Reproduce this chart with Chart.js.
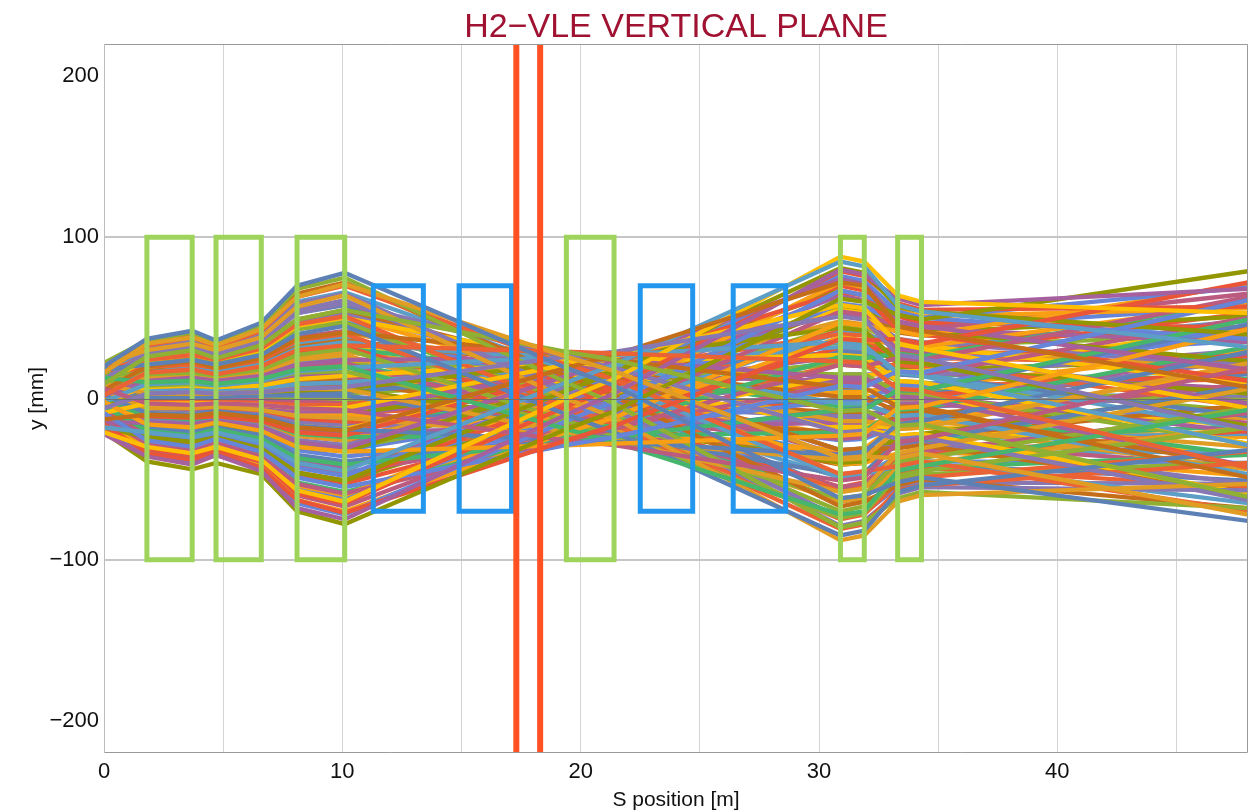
<!DOCTYPE html>
<html>
<head>
<meta charset="utf-8">
<title>H2-VLE vertical plane</title>
<script src="https://cdn.jsdelivr.net/npm/chart.js@4.4.1/dist/chart.umd.min.js"></script>
<style>
  html, body { margin: 0; padding: 0; background: #ffffff; }
  #wrap { width: 1249px; height: 812px; position: relative; }
</style>
</head>
<body>
<div id="wrap"><canvas id="plot" width="1249" height="812"></canvas></div>
<script>
// S positions (m) where the tracking code writes out each particle
const S_NODES = [0, 1.8, 3.7, 4.7, 6.6, 8.1, 10.1, 19.4, 21.4, 30.9, 31.9, 33.3, 34.3, 48];

// vertical offset y (mm) of the tracked particles at S_NODES,
// grouped by starting amplitude (largest first)
const TRACKS_1 = [
  [20, 37, 42, 36, 47, 70, 78, 19, 8, -62, -60, -52, -49, -76],
  [16, 34, 38, 33, 43, 63, 71, 26, 17, -37, -36, -37, -34, -72],
  [9, 26, 30, 25, 33, 49, 55, 29, 24, -8, -7, -17, -16, -61],
  [2, 16, 18, 15, 20, 30, 33, 29, 28, 23, 22, 6, 5, -43],
  [-6, 3, 4, 3, 4, 6, 7, 26, 29, 51, 49, 27, 25, -19],
  [-13, -10, -11, -9, -12, -18, -20, 19, 27, 72, 70, 45, 42, 7],
  [-18, -21, -24, -21, -27, -40, -45, 10, 21, 85, 82, 58, 54, 32],
  [-21, -30, -34, -30, -38, -57, -64, 0, 12, 88, 85, 64, 60, 53],
  [-22, -36, -41, -35, -45, -68, -75, -10, 3, 80, 77, 62, 58, 68],
  [-21, -39, -44, -40, -47, -70, -78, -19, -8, 62, 60, 52, 49, 79],
  [-16, -34, -38, -33, -43, -63, -71, -26, -17, 37, 36, 37, 34, 72],
  [-9, -26, -30, -25, -33, -49, -55, -29, -24, 8, 7, 17, 16, 61],
  [-2, -16, -18, -15, -20, -30, -33, -29, -28, -23, -22, -6, -5, 43],
  [6, -3, -4, -3, -4, -6, -7, -26, -29, -51, -49, -27, -25, 19],
  [13, 10, 11, 9, 12, 18, 20, -19, -27, -72, -70, -45, -42, -7],
  [18, 21, 24, 21, 27, 40, 45, -10, -21, -85, -82, -58, -54, -32],
  [21, 30, 34, 30, 38, 57, 64, 0, -12, -88, -85, -64, -60, -53],
  [22, 36, 41, 35, 45, 68, 75, 10, -3, -80, -77, -62, -58, -68]
];
const TRACKS_1B = [
  [17, 33, 38, 32, 42, 63, 70, 21, 12, -47, -45, -42, -39, -70],
  [12, 28, 32, 27, 36, 53, 59, 26, 19, -21, -20, -25, -24, -63],
  [5, 20, 23, 19, 25, 37, 41, 27, 24, 7, 7, -5, -5, -49],
  [-2, 9, 10, 8, 11, 17, 19, 26, 27, 35, 33, 16, 14, -29],
  [-9, -3, -3, -3, -4, -6, -6, 21, 26, 58, 56, 34, 31, -6],
  [-15, -15, -16, -14, -18, -27, -31, 14, 23, 74, 71, 48, 45, 18],
  [-18, -24, -27, -24, -31, -46, -51, 5, 16, 81, 78, 57, 54, 40],
  [-20, -31, -35, -31, -39, -59, -65, -5, 7, 79, 76, 59, 55, 57],
  [-20, -35, -40, -35, -43, -65, -72, -14, -2, 67, 64, 54, 50, 69],
  [-17, -34, -39, -34, -42, -63, -70, -21, -12, 47, 45, 42, 39, 71],
  [-12, -28, -32, -27, -36, -53, -59, -26, -19, 21, 20, 25, 24, 63],
  [-5, -20, -23, -19, -25, -37, -41, -27, -24, -7, -7, 5, 5, 49],
  [2, -9, -10, -8, -11, -17, -19, -26, -27, -35, -33, -16, -14, 29],
  [9, 3, 3, 3, 4, 6, 6, -21, -26, -58, -56, -34, -31, 6],
  [15, 15, 16, 14, 18, 27, 31, -14, -23, -74, -71, -48, -45, -18],
  [18, 24, 27, 24, 31, 46, 51, -5, -16, -81, -78, -57, -54, -40],
  [20, 31, 35, 31, 39, 59, 65, 5, -7, -79, -76, -59, -55, -57],
  [20, 34, 39, 33, 43, 65, 72, 14, 2, -67, -64, -54, -50, -68]
];
const TRACKS_2 = [
  [16, 32, 36, 31, 40, 60, 66, 18, 9, -49, -47, -42, -40, -65],
  [10, 24, 27, 24, 30, 45, 50, 24, 18, -20, -19, -23, -22, -59],
  [2, 11, 13, 11, 14, 21, 24, 25, 24, 13, 13, 0, 0, -42],
  [-5, 3, 3, 3, 4, 5, 6, 22, 25, 44, 42, 23, 22, -17],
  [-12, -11, -12, -11, -14, -21, -23, 15, 22, 66, 64, 42, 40, 11],
  [-17, -23, -26, -22, -29, -43, -48, 4, 15, 76, 73, 54, 50, 37],
  [-18, -29, -32, -28, -36, -54, -60, -7, 4, 72, 69, 55, 51, 56],
  [-17, -32, -36, -31, -41, -60, -67, -16, -7, 54, 52, 45, 43, 65],
  [-12, -28, -32, -27, -35, -52, -58, -23, -16, 26, 25, 28, 26, 61],
  [-5, -18, -21, -18, -23, -35, -39, -26, -23, -7, -6, 5, 5, 46],
  [3, -6, -6, -5, -7, -11, -12, -23, -26, -38, -37, -19, -18, 22],
  [11, 8, 9, 8, 11, 16, 17, -16, -23, -62, -60, -39, -37, -6],
  [15, 20, 21, 19, 24, 36, 40, -7, -16, -75, -72, -52, -49, -33],
  [19, 29, 33, 28, 37, 55, 61, 4, -7, -74, -71, -55, -52, -53]
];
const TRACKS_2B = [
  [12, 26, 30, 26, 33, 49, 55, 20, 13, -32, -31, -31, -29, -58],
  [6, 16, 19, 16, 21, 31, 35, 23, 20, -3, -3, -11, -10, -47],
  [-1, 7, 8, 7, 8, 12, 14, 22, 23, 27, 26, 11, 10, -28],
  [-8, -4, -4, -4, -5, -8, -8, 17, 22, 52, 50, 31, 29, -3],
  [-14, -16, -18, -16, -20, -30, -33, 9, 17, 67, 64, 45, 42, 23],
  [-16, -24, -27, -24, -31, -46, -51, -1, 9, 70, 67, 51, 47, 44],
  [-17, -30, -34, -29, -38, -56, -62, -11, -1, 59, 57, 47, 44, 57],
  [-14, -28, -32, -27, -36, -53, -59, -18, -11, 38, 36, 34, 32, 59],
  [-8, -22, -25, -21, -27, -41, -46, -23, -18, 9, 9, 16, 15, 50],
  [-1, -11, -13, -11, -14, -22, -24, -23, -23, -21, -20, -7, -6, 32],
  [7, 1, 1, 1, 2, 2, 2, -18, -23, -47, -46, -27, -26, 8],
  [12, 13, 14, 13, 16, 24, 27, -11, -18, -64, -62, -43, -40, -18],
  [16, 23, 25, 22, 29, 43, 47, -1, -11, -70, -67, -50, -47, -40],
  [16, 29, 32, 28, 36, 54, 60, 10, 1, -58, -55, -46, -43, -55]
];
const TRACKS_3 = [
  [12, 25, 28, 24, 32, 47, 53, 17, 11, -32, -31, -30, -28, -53],
  [5, 17, 19, 17, 22, 32, 36, 21, 18, 1, 1, -8, -8, -42],
  [-3, 5, 5, 5, 6, 9, 10, 19, 21, 32, 31, 16, 15, -19],
  [-10, -9, -10, -9, -12, -17, -19, 12, 18, 55, 53, 35, 33, 9],
  [-15, -20, -23, -20, -26, -39, -43, 2, 11, 64, 61, 46, 43, 35],
  [-15, -24, -28, -24, -31, -46, -51, -9, 0, 57, 55, 43, 41, 51],
  [-12, -25, -28, -24, -32, -47, -53, -17, -11, 32, 31, 30, 28, 53],
  [-5, -17, -19, -17, -22, -32, -36, -21, -18, -1, -1, 8, 8, 42],
  [3, -5, -5, -5, -6, -9, -10, -19, -21, -32, -31, -16, -15, 19],
  [12, 10, 12, 10, 14, 20, 22, -12, -18, -55, -53, -35, -33, -9],
  [16, 22, 25, 22, 28, 43, 47, -2, -11, -64, -61, -46, -43, -35],
  [17, 27, 32, 27, 35, 53, 58, 9, 0, -57, -55, -43, -41, -51]
];
const TRACKS_3B = [
  [8, 19, 22, 19, 25, 36, 41, 17, 13, -14, -14, -17, -17, -44],
  [1, 10, 11, 10, 13, 19, 21, 18, 18, 15, 15, 4, 3, -28],
  [-6, -2, -2, -2, -3, -4, -4, 14, 18, 40, 39, 23, 22, -5],
  [-12, -13, -15, -13, -17, -26, -29, 6, 13, 55, 52, 37, 35, 20],
  [-14, -20, -23, -20, -26, -39, -43, -3, 5, 56, 53, 41, 39, 40],
  [-12, -23, -26, -22, -29, -43, -48, -12, -5, 41, 40, 34, 32, 48],
  [-8, -19, -22, -19, -25, -36, -41, -17, -13, 14, 14, 17, 17, 44],
  [-1, -10, -11, -10, -13, -19, -21, -18, -18, -15, -15, -4, -3, 28],
  [7, 2, 3, 2, 4, 5, 6, -14, -18, -40, -39, -23, -22, 5],
  [13, 15, 17, 15, 19, 29, 32, -6, -13, -55, -52, -37, -35, -20],
  [15, 23, 26, 23, 29, 44, 48, 3, -5, -56, -53, -41, -39, -40],
  [13, 24, 28, 23, 31, 46, 51, 12, 5, -41, -40, -34, -32, -48]
];
const TRACKS_4 = [
  [11, 20, 23, 19, 26, 38, 42, 11, 5, -35, -34, -29, -28, -42],
  [5, 15, 17, 14, 19, 28, 31, 16, 14, -5, -4, -10, -9, -35],
  [-3, 2, 2, 2, 2, 3, 4, 15, 16, 29, 28, 15, 14, -11],
  [-10, -12, -14, -12, -15, -23, -26, 6, 12, 48, 46, 33, 31, 18],
  [-9, -14, -17, -14, -19, -28, -31, -6, 2, 45, 44, 35, 33, 39],
  [-9, -19, -22, -19, -24, -36, -40, -15, -10, 21, 20, 21, 19, 41],
  [-1, -8, -9, -8, -10, -15, -17, -16, -16, -13, -12, -3, -3, 24],
  [7, 6, 6, 5, 7, 10, 11, -11, -15, -41, -40, -26, -24, -4],
  [12, 18, 21, 18, 23, 34, 38, 1, -6, -49, -47, -36, -34, -33]
];
const TRACKS_4B = [
  [7, 16, 18, 15, 20, 30, 33, 12, 9, -18, -17, -18, -17, -35],
  [1, 8, 9, 7, 10, 14, 16, 14, 14, 11, 11, 2, 2, -21],
  [-6, -5, -5, -5, -6, -9, -10, 10, 13, 35, 34, 22, 20, 3],
  [-9, -12, -14, -12, -15, -23, -26, 0, 6, 42, 41, 31, 29, 26],
  [-8, -15, -18, -15, -20, -29, -32, -10, -4, 30, 29, 25, 24, 36],
  [-5, -12, -14, -12, -15, -23, -26, -14, -12, 4, 4, 8, 7, 30],
  [3, -1, -1, -1, -1, -2, -3, -12, -14, -25, -24, -13, -12, 9],
  [9, 11, 12, 10, 14, 20, 22, -5, -10, -41, -40, -28, -26, -17],
  [10, 17, 20, 17, 22, 33, 36, 5, 0, -38, -37, -30, -28, -34]
];
const TRACKS_5 = [
  [7, 14, 16, 14, 18, 26, 29, 11, 7, -15, -15, -15, -14, -30],
  [-2, 1, 2, 1, 2, 2, 3, 11, 12, 21, 20, 11, 10, -8],
  [-8, -11, -13, -11, -15, -21, -24, 0, 5, 36, 35, 26, 25, 22],
  [-7, -14, -16, -14, -18, -26, -29, -11, -7, 15, 15, 15, 14, 30],
  [2, -1, -2, -1, -2, -2, -3, -11, -12, -21, -20, -11, -10, 8],
  [9, 12, 14, 12, 16, 23, 26, 0, -5, -36, -35, -26, -25, -22]
];
const TRACKS_5B = [
  [2, 7, 8, 7, 9, 13, 15, 10, 9, 3, 2, -2, -2, -17],
  [-5, -5, -5, -5, -6, -9, -10, 5, 8, 26, 25, 17, 16, 6],
  [-7, -12, -13, -12, -15, -22, -24, -5, -1, 23, 23, 19, 18, 24],
  [-2, -7, -8, -7, -9, -13, -15, -10, -9, -3, -2, 2, 2, 17],
  [5, 5, 5, 5, 6, 9, 10, -5, -8, -26, -25, -17, -16, -6],
  [7, 12, 13, 12, 15, 22, 24, 5, 1, -23, -23, -19, -18, -24]
];
const TRACKS_6 = [
  [2, 6, 7, 6, 8, 11, 13, 7, 6, 2, 2, -3, -3, -15],
  [-5, -7, -8, -7, -9, -14, -15, 1, 4, 23, 22, 16, 15, 12],
  [-2, -6, -7, -6, -8, -11, -13, -7, -6, -2, -2, 3, 3, 15],
  [5, 7, 8, 7, 9, 14, 15, -1, -4, -23, -22, -16, -15, -12]
];
const TRACKS_6B = [
  [-1, 0, 0, 0, 0, -1, -1, 4, 5, 11, 11, 6, 5, -1],
  [-3, -4, -5, -4, -5, -8, -9, -3, -1, 9, 9, 9, 8, 12],
  [1, 0, 0, 0, 0, 1, 1, -4, -5, -11, -11, -6, -5, 1],
  [3, 4, 5, 4, 5, 8, 9, 3, 1, -9, -9, -9, -8, -12]
];
const TRACKS_7 = [
  [-1, -1, -1, -1, -1, -1, -1, 2, 2, 6, 5, 3, 3, 1]
];

// beamline elements: [s start, s end] in m
const GREEN_ELEMENTS = [[1.8, 3.7], [4.7, 6.6], [8.1, 10.1], [19.4, 21.4], [30.9, 31.9], [33.3, 34.3]];
const GREEN_HALF_APERTURE = 100;
const BLUE_ELEMENTS = [[11.3, 13.4], [14.9, 17.1], [22.5, 24.7], [26.4, 28.6]];
const BLUE_HALF_APERTURE = 70;
const RED_MARKERS = [17.3, 18.3];

// axes
const X_RANGE = [0, 48];
const Y_RANGE = [-220, 220];
const X_TICKS = [0, 5, 10, 15, 20, 25, 30, 35, 40, 45];
const Y_TICKS = [-200, -100, 0, 100, 200];

const PALETTE = ['#5E81B5', '#E19C24', '#8FB032', '#EB6235', '#8778B3', '#C56E1A', '#5D9EC7',
  '#FFBF00', '#A5609D', '#929600', '#E95536', '#6685D9', '#F89F13', '#BC5B80', '#47B66D'];

const FONT = '"Liberation Sans", Arial, Helvetica, sans-serif';
const minus = v => (v < 0 ? '\u2212' + Math.abs(v) : String(v));

const tracks = [].concat(TRACKS_1, TRACKS_1B, TRACKS_2, TRACKS_2B, TRACKS_3, TRACKS_3B,
  TRACKS_4, TRACKS_4B, TRACKS_5, TRACKS_5B, TRACKS_6, TRACKS_6B, TRACKS_7);

const trackSets = tracks.map((ys, i) => ({
  data: S_NODES.map((s, j) => ({ x: s, y: ys[j] })),
  borderColor: PALETTE[i % PALETTE.length],
  borderWidth: 4.3,
  showLine: true,
  pointRadius: 0,
  tension: 0,
  fill: false,
  order: 3
}));

function rect(span, h) {
  return [{ x: span[0], y: -h }, { x: span[0], y: h }, { x: span[1], y: h }, { x: span[1], y: -h }, { x: span[0], y: -h }];
}
const boxStyle = { showLine: true, pointRadius: 0, borderWidth: 5, borderJoinStyle: 'miter', borderCapStyle: 'square', fill: false, tension: 0, order: 1 };
const greenSets = GREEN_ELEMENTS.map(sp => Object.assign({ data: rect(sp, GREEN_HALF_APERTURE), borderColor: '#9FD45C' }, boxStyle));
const blueSets = BLUE_ELEMENTS.map(sp => Object.assign({ data: rect(sp, BLUE_HALF_APERTURE), borderColor: '#2396EE' }, boxStyle));
const redSets = RED_MARKERS.map(s => ({
  data: [{ x: s, y: Y_RANGE[0] }, { x: s, y: Y_RANGE[1] }],
  borderColor: '#FF5122', borderWidth: 6, showLine: true, pointRadius: 0, fill: false, order: 0
}));

const decorations = {
  id: 'decorations',
  afterDatasetsDraw(chart) {
    const { ctx, chartArea: a, scales } = chart;
    const y0 = Math.round(scales.y.getPixelForValue(0)) + 0.5;
    ctx.save();
    ctx.strokeStyle = '#6f6f6f';
    ctx.lineWidth = 1;
    ctx.beginPath();
    ctx.moveTo(a.left, y0);
    ctx.lineTo(a.right, y0);
    ctx.stroke();
    ctx.restore();
  },
  afterDraw(chart) {
    const { ctx, chartArea: a } = chart;
    ctx.save();
    // frame
    ctx.lineWidth = 1;
    ctx.strokeStyle = '#9a9a9a';
    ctx.beginPath();
    ctx.moveTo(a.left + 0.5, a.top + 0.5);
    ctx.lineTo(a.right - 0.5, a.top + 0.5);
    ctx.lineTo(a.right - 0.5, a.bottom - 0.5);
    ctx.lineTo(a.left + 0.5, a.bottom - 0.5);
    ctx.stroke();
    ctx.strokeStyle = '#bdbdbd';
    ctx.beginPath();
    ctx.moveTo(a.left + 0.5, a.top);
    ctx.lineTo(a.left + 0.5, a.bottom);
    ctx.stroke();
    // title
    const cx = (a.left + a.right) / 2;
    ctx.fillStyle = '#A01232';
    ctx.font = '34px ' + FONT;
    ctx.textAlign = 'center';
    ctx.textBaseline = 'alphabetic';
    ctx.fillText('H2\u2212VLE VERTICAL PLANE', cx, 37);
    // axis titles
    ctx.fillStyle = '#111111';
    ctx.font = '21px ' + FONT;
    ctx.fillText('S position [m]', cx, 806);
    ctx.translate(43, (a.top + a.bottom) / 2);
    ctx.rotate(-Math.PI / 2);
    ctx.fillText('y [mm]', 0, 0);
    ctx.restore();
  }
};

new Chart(document.getElementById('plot'), {
  type: 'scatter',
  data: { datasets: [].concat(redSets, blueSets, greenSets, trackSets) },
  options: {
    responsive: false,
    devicePixelRatio: 1,
    animation: false,
    events: [],
    layout: { padding: { top: 44, right: 1, left: 0, bottom: 0 } },
    plugins: { legend: { display: false }, tooltip: { enabled: false }, title: { display: false } },
    scales: {
      x: {
        type: 'linear', min: X_RANGE[0], max: X_RANGE[1],
        afterBuildTicks: sc => { sc.ticks = X_TICKS.map(v => ({ value: v })); },
        afterFit: sc => { sc.height = 59; },
        ticks: {
          autoSkip: false, maxRotation: 0, padding: 6, color: '#111111',
          font: { family: FONT, size: 22 },
          callback: v => (v % 10 === 0 ? minus(v) : '')
        },
        grid: { color: '#d3d3d3', lineWidth: 1, drawTicks: false },
        border: { display: false }
      },
      y: {
        type: 'linear', min: Y_RANGE[0], max: Y_RANGE[1],
        afterBuildTicks: sc => { sc.ticks = Y_TICKS.map(v => ({ value: v })); },
        afterFit: sc => { sc.width = 104; },
        ticks: {
          padding: 5, color: '#111111',
          font: { family: FONT, size: 22 },
          callback: v => minus(v)
        },
        grid: {
          drawTicks: false,
          color: c => (Math.abs(c.tick.value) === 100 ? '#c6c6c6' : (c.tick.value === 0 ? '#8a8a8a' : 'rgba(0,0,0,0)')),
          lineWidth: c => (Math.abs(c.tick.value) === 100 ? 2 : 1)
        },
        border: { display: false }
      }
    }
  },
  plugins: [decorations]
});
</script>
</body>
</html>
